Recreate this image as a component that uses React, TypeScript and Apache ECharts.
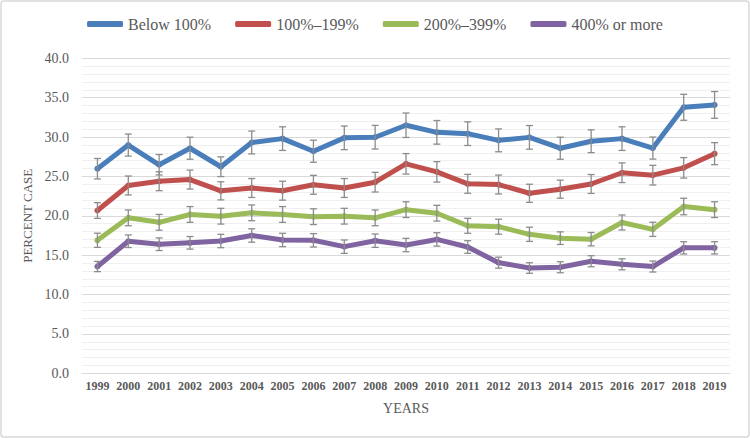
import React, { useEffect, useRef } from "react";
import * as echarts from "echarts";

const years = ["1999","2000","2001","2002","2003","2004","2005","2006","2007","2008","2009","2010","2011","2012","2013","2014","2015","2016","2017","2018","2019"];

const seriesNames = ["Below 100%", "100%\u2013199%", "200%\u2013399%", "400% or more"];
const colors = ["#4A7EBB", "#C0504D", "#9BBB59", "#8064A2"];

const below100 = [25.98, 28.98, 26.48, 28.58, 26.23, 29.31, 29.8, 28.2, 29.9, 29.98, 31.5, 30.6, 30.43, 29.58, 29.96, 28.58, 29.47, 29.8, 28.6, 33.78, 34.08];
const below100Err = [1.3, 1.4, 1.3, 1.4, 1.25, 1.45, 1.5, 1.4, 1.5, 1.5, 1.55, 1.5, 1.5, 1.45, 1.5, 1.4, 1.45, 1.5, 1.4, 1.65, 1.7];

const p100to199 = [20.67, 23.85, 24.39, 24.6, 23.17, 23.53, 23.19, 23.94, 23.53, 24.27, 26.6, 25.58, 24.06, 23.97, 22.86, 23.38, 24.04, 25.47, 25.16, 26.09, 27.89];
const p100to199Err = [1.0, 1.2, 1.2, 1.2, 1.15, 1.2, 1.2, 1.2, 1.2, 1.25, 1.3, 1.3, 1.2, 1.2, 1.15, 1.15, 1.2, 1.25, 1.25, 1.3, 1.4];

const p200to399 = [16.89, 19.74, 19.17, 20.17, 19.95, 20.38, 20.17, 19.89, 19.95, 19.74, 20.78, 20.33, 18.73, 18.62, 17.65, 17.16, 17.03, 19.15, 18.28, 21.18, 20.78];
const p200to399Err = [0.9, 1.0, 1.0, 1.0, 1.0, 1.0, 1.0, 1.0, 1.0, 1.0, 1.0, 1.0, 0.95, 0.95, 0.9, 0.8, 0.85, 0.95, 0.9, 1.05, 1.0];

const p400plus = [13.56, 16.77, 16.39, 16.57, 16.8, 17.5, 16.93, 16.89, 16.08, 16.84, 16.29, 17.0, 16.04, 14.05, 13.37, 13.47, 14.23, 13.84, 13.56, 15.93, 15.93];
const p400plusErr = [0.65, 0.8, 0.8, 0.8, 0.85, 0.85, 0.85, 0.85, 0.85, 0.85, 0.85, 0.85, 0.8, 0.7, 0.67, 0.7, 0.7, 0.7, 0.7, 0.78, 0.78];

const yTicks = { min: 0, max: 40, interval: 5 };

const FONT = "'Liberation Serif', 'DejaVu Serif', serif";
const TEXT = "#595959";

export default function App() {
  const ref = useRef<HTMLDivElement>(null);

  useEffect(() => {
    if (!ref.current) return;
    const chart = echarts.init(ref.current, null, { renderer: "svg" });
    const values = [below100, p100to199, p200to399, p400plus];
    const errs = [below100Err, p100to199Err, p200to399Err, p400plusErr];

    const lineSeries = values.map((v, i) => ({
      name: seriesNames[i],
      type: "line",
      data: v,
      symbol: "circle",
      symbolSize: 6,
      showSymbol: true,
      itemStyle: { color: colors[i] },
      lineStyle: { color: colors[i], width: 5, cap: "round", join: "round" },
      z: 2,
    }));

    const errSeries = values.map((v, i) => ({
      name: "err" + i,
      type: "custom",
      data: v.map((val, k) => [k, val - errs[i][k], val + errs[i][k]]),
      z: 5,
      silent: true,
      renderItem: (params: any, api: any) => {
        const x = api.value(0);
        const top = api.coord([x, api.value(2)]);
        const bot = api.coord([x, api.value(1)]);
        const hw = 3.5;
        const style = { stroke: "#8C8C8C", lineWidth: 1.3 };
        return {
          type: "group",
          children: [
            { type: "line", shape: { x1: top[0], y1: top[1], x2: bot[0], y2: bot[1] }, style },
            { type: "line", shape: { x1: top[0] - hw, y1: top[1], x2: top[0] + hw, y2: top[1] }, style },
            { type: "line", shape: { x1: bot[0] - hw, y1: bot[1], x2: bot[0] + hw, y2: bot[1] }, style },
          ],
        };
      },
    }));

    chart.setOption({
      animation: false,
      textStyle: { fontFamily: FONT, color: TEXT },
      graphic: [
        {
          type: "rect",
          shape: { x: 1, y: 1, width: 748, height: 436, r: 3 },
          style: { fill: "none", stroke: "#D9D9D9", lineWidth: 1.5 },
          silent: true,
        },
      ],
      legend: {
        data: seriesNames,
        top: 11,
        left: "center",
        itemWidth: 36,
        itemHeight: 6,
        itemGap: 24,
        icon: "roundRect",
        textStyle: { fontFamily: FONT, fontSize: 16, color: TEXT },
      },
      grid: { left: 82, right: 20, top: 58.3, bottom: 64.7, containLabel: false },
      xAxis: {
        type: "category",
        data: years,
        boundaryGap: true,
        name: "YEARS",
        nameLocation: "middle",
        nameGap: 28,
        nameTextStyle: { fontFamily: FONT, fontSize: 14, color: TEXT },
        axisLine: { lineStyle: { color: "#D9D9D9", width: 1 } },
        axisTick: { show: false },
        axisLabel: { fontFamily: FONT, fontSize: 12, fontWeight: "bold", color: TEXT, margin: 7, interval: 0 },
      },
      yAxis: {
        type: "value",
        min: yTicks.min,
        max: yTicks.max,
        interval: yTicks.interval,
        name: "PERCENT CASE",
        nameLocation: "middle",
        nameGap: 41,
        nameTextStyle: { fontFamily: FONT, fontSize: 13, color: TEXT },
        axisLine: { show: false },
        axisTick: { show: false },
        axisLabel: {
          fontFamily: FONT,
          fontSize: 14,
          color: TEXT,
          margin: 13,
          formatter: (v: number) => v.toFixed(1),
        },
        splitLine: { lineStyle: { color: "#D9D9D9", width: 1 } },
        minorTick: { show: false, splitNumber: 5 },
        minorSplitLine: { show: true, lineStyle: { color: "#F0F0F0", width: 1 } },
      },
      series: [...lineSeries, ...errSeries],
    });

    return () => chart.dispose();
  }, []);

  return (
    <div
      ref={ref}
      style={{ position: "fixed", left: 0, top: 0, width: 750, height: 438, background: "#fff" }}
    />
  );
}
